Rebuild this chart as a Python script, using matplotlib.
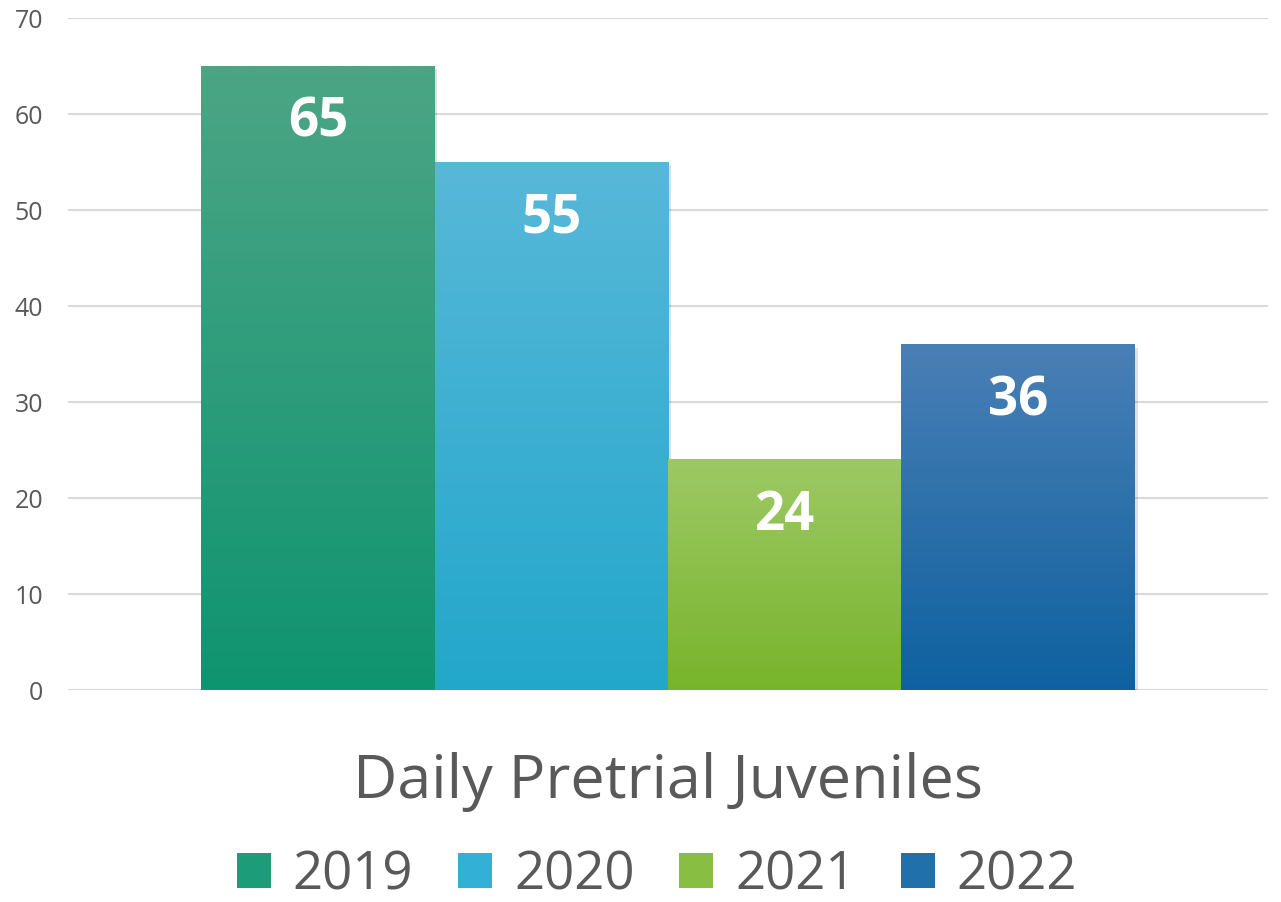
import numpy as np
import matplotlib
matplotlib.use("Agg")
import matplotlib.pyplot as plt
from matplotlib.colors import LinearSegmentedColormap
from matplotlib.patches import Patch, Rectangle

years = ["2019", "2020", "2021", "2022"]
values = [65, 55, 24, 36]
category = "Daily Pretrial Juveniles"
top_colors = ["#4ca585", "#58b8d9", "#9dc965", "#4a7fb5"]
bottom_colors = ["#0f9470", "#22a7cb", "#78b42b", "#0e61a0"]
mid_colors = ["#1c9c78", "#33b0d6", "#88bf42", "#2071ab"]

plt.rcParams["font.family"] = ["Open Sans", "DejaVu Sans"]
text_gray = "#595959"

fig = plt.figure(figsize=(12.81, 9.03), dpi=100)
ax = fig.add_axes([68 / 1281, 1 - 691 / 903, 1200 / 1281, 672 / 903])

# light gridlines
for y in range(0, 71, 10):
    ax.axhline(y, color="#d9d9d9", lw=1.5, zorder=0)

x = np.arange(len(values))
grad = np.linspace(1, 0, 256).reshape(-1, 1)
for i, v in enumerate(values):
    # soft shadow
    ax.add_patch(Rectangle((x[i] - 0.5 + 0.012, -0.35), 1.0, v, color="#000000",
                           alpha=0.12, lw=0, zorder=1))
    cmap = LinearSegmentedColormap.from_list("g%d" % i, [bottom_colors[i], top_colors[i]])
    ax.imshow(grad, cmap=cmap, extent=(x[i] - 0.5, x[i] + 0.5, 0, v),
              aspect="auto", zorder=2, interpolation="bilinear")
    ax.text(x[i], v - 5.8, str(v), ha="center", va="center", color="white",
            fontsize=38, fontweight="bold", zorder=3)

ax.set_xlim(-1.0696, 4.0696)
ax.set_ylim(0, 70)
ax.set_xticks([])
ax.set_yticks(range(0, 71, 10))
ax.tick_params(axis="y", length=0, pad=18, labelsize=18, labelcolor=text_gray)
for s in ax.spines.values():
    s.set_visible(False)

fig.text(668 / 1281, 1 - 782 / 903, category, ha="center", va="center",
         fontsize=44, color=text_gray)

handles = [Patch(facecolor=c, edgecolor="none") for c in mid_colors]
leg = fig.legend(handles, years, loc="center", bbox_to_anchor=(657 / 1281, 1 - 876 / 903),
                 ncol=4, frameon=False, fontsize=38, handlelength=0.64, handleheight=0.64,
                 handletextpad=0.42, columnspacing=0.85, borderpad=0.1)
for t in leg.get_texts():
    t.set_color(text_gray)

fig.savefig("out.png", dpi=100)
